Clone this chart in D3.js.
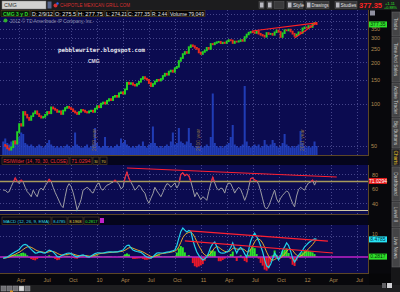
<!DOCTYPE html>
<html>
<head>
<meta charset="utf-8">
<script src="https://cdn.jsdelivr.net/npm/d3@7"></script>
<style>
body{margin:0;background:#08080c;}
svg{display:block;font-family:"Liberation Sans",Arial,sans-serif;}
</style>
</head>
<body>
<div id="chart"></div>
<script>
// weekly closes, Feb 2009 - Feb 2012
var closes = [51,
  50,48,47,49,54,52,63,72,70,88,
  84,80,77,82,86,89,85,82,80,81,
  84,88,86,95,93,91,88,89,85,90,
  94,96,94,92,89,87,85,88,91,90,
  88,87,89,90,88,93,97,95,101,103,
  101,106,109,107,113,115,113,120,122,119,
  128,143,140,142,138,136,140,145,152,157,
  153,150,142,135,140,146,150,148,152,160,
  166,163,172,175,171,182,186,205,215,230,
  238,234,258,266,262,255,250,236,230,238,
  244,255,250,272,270,276,280,282,275,278,
  276,284,290,288,276,283,282,285,290,286,
  305,318,328,332,330,326,335,322,316,312,
  306,326,320,322,316,330,340,332,305,325,
  342,340,345,334,322,310,318,330,326,352,
  358,356,366,360,380,385,377];

// volume, millions
var volumes = [0.9,1.1,0.8,0.7,0.9, 0.8,1.0,0.9,1.2,1.5, 1.4,0.8,0.7,0.6,0.7,
  0.6,0.5,0.6,0.7,0.6, 0.5,0.6,0.8,1.0,0.7, 0.6,0.5,0.6,0.5,0.6,
  0.5,0.6,0.7,0.6,0.5, 0.6,1.5,0.7,0.6,0.5, 0.5,0.6,0.7,0.5,0.6,
  0.7,1.8,0.8,0.6,0.5, 0.6,1.2,0.6,0.5,0.6, 0.5,0.6,0.7,0.6,1.1,
  0.8,1.0,0.7,0.6,0.5, 0.6,0.5,0.6,0.7,0.6, 0.9,0.6,0.5,0.7,0.8,
  1.9,0.8,0.6,0.5,0.6, 0.5,0.6,0.7,0.6,0.9, 1.5,0.7,0.8,1.8,0.9,
  0.8,0.7,0.9,1.8,0.8, 0.6,0.5,0.6,0.5,0.6, 0.5,0.6,0.7,0.6,1.2,
  4.1,0.8,0.6,0.5,0.6, 0.5,0.6,0.7,0.8,1.2, 2.0,0.7,0.6,0.5,0.6,
  0.7,4.6,0.9,0.6,0.5, 0.6,0.7,0.6,0.7,0.5, 0.6,1.0,0.7,0.6,0.7,
  1.0,0.8,0.6,0.5,0.6, 0.8,1.4,0.7,0.6,0.5, 0.6,0.5,0.6,0.7,1.6,
  0.8,0.6,0.5,0.6,0.5, 0.6,0.9,0.6];

var rsi = [58,58,55,56,63,69,75,70,67,72,
  69,62,56,53,49,58,53,49,58,61,
  58,64,68,73,70,62,55,49,43,37,
  34,49,62,67,63,55,44,31,37,45,
  58,60,62,60,56,54,60,66,68,60,
  58,62,65,66,68,69,72,69,66,60,
  62,75,83,74,69,64,58,61,65,62,
  57,54,45,40,47,53,62,57,53,49,
  55,62,67,66,62,65,68,61,66,80,
  82,78,80,78,70,60,49,55,50,45,
  49,47,44,56,67,76,68,61,58,61,
  60,54,64,68,67,61,54,59,62,59,
  52,44,51,62,74,75,72,71,66,57,
  46,35,32,36,43,51,58,46,41,47,
  51,54,57,55,47,40,35,50,59,62,
  60,58,64,68,69,72,65,71.03];

var macd = [-0.5,-0.3,0,0.6,1.3,1.9,2.5,3.0,3.6,4.8,
  5.7,6.0,5.6,4.6,3.6,2.7,1.9,2.0,2.4,2.3,
  2.0,1.9,2.6,3.3,3.0,2.4,1.4,0.3,0,0.6,
  1.0,1.4,1.8,1.9,1.6,1.0,0.4,0,0.4,0.8,
  1.0,0.6,0.2,0,0.5,1.1,1.6,1.9,2.0,1.9,
  1.9,2.1,2.3,2.4,2.4,2.3,2.4,2.4,2.7,3.0,
  3.3,4.5,5.5,5.6,4.4,3.3,2.9,2.6,2.4,2.2,
  1.5,0.6,0,-0.3,-0.5,0.1,1.1,1.9,2.0,1.9,
  1.9,2.1,2.3,2.4,2.7,3.0,3.3,5.5,9.0,12.2,
  13.8,12.8,11.9,12.6,12.2,8.1,5.0,2.4,0.8,-0.4,
  -1.4,-0.8,0,2.2,4.8,6.3,7.1,5.0,2.6,1.9,
  1.8,1.9,2.5,3.0,4.5,6.7,4.0,1.9,3.8,4.6,
  3.3,1.5,0,3.5,7.5,10.0,11.4,9.8,7.8,5.2,
  2.5,-1.4,-4.2,-5.0,-3.5,-0.8,1.9,0.4,-1.4,0.5,
  3.2,4.8,6.7,5.5,2.8,-0.5,-2.4,-0.8,0.8,2.0,
  3.2,4.8,5.8,6.8,7.5,8.1,8.6,8.4785];

var signal = [-0.6,-0.5,-0.3,0,0.4,0.8,1.3,1.8,2.3,2.9,
  3.6,4.3,4.8,4.9,4.6,4.1,3.5,3.0,2.7,2.5,
  2.3,2.1,2.2,2.5,2.7,2.6,2.3,1.8,1.3,1.0,
  0.9,1.0,1.2,1.4,1.5,1.4,1.1,0.8,0.6,0.6,
  0.7,0.7,0.6,0.4,0.4,0.6,0.9,1.2,1.5,1.7,
  1.8,1.9,2.0,2.1,2.2,2.3,2.3,2.4,2.5,2.6,
  2.8,3.2,3.8,4.4,4.5,4.2,3.8,3.4,3.1,2.8,
  2.4,1.9,1.3,0.8,0.3,0.1,0.3,0.8,1.2,1.5,
  1.7,1.8,2.0,2.1,2.3,2.5,2.8,3.4,4.9,7.0,
  9.2,10.6,11.3,11.7,11.9,11.0,9.4,7.3,5.3,3.6,
  2.0,1.0,0.5,0.8,1.8,3.1,4.4,5.0,4.6,3.9,
  3.2,2.7,2.5,2.6,3.1,4.1,4.4,3.8,3.6,3.8,
  3.9,3.4,2.5,2.4,3.6,5.3,7.2,8.4,8.6,8.0,
  6.6,4.6,2.3,0.4,-1.0,-1.6,-1.2,-0.6,-0.6,-0.4,
  0.4,1.4,2.6,3.6,3.8,3.2,1.9,0.9,0.3,0.4,
  1.0,1.9,2.9,3.9,4.9,5.9,7.2,8.1968];

var quarterTicks = ["2009-04-01","2009-07-01","2009-10-01","2010-01-01","2010-04-01","2010-07-01",
  "2010-10-01","2011-01-01","2011-04-01","2011-07-01","2011-10-01","2012-01-01","2012-04-01","2012-07-01"];
var priceTicks = [50, 100, 150, 200, 250, 300, 350];
var priceGrid = [50, 100, 150, 200, 250, 300, 350, 400, 450];
var rsiTicks = [40, 60, 80];
var macdTicks = [10];
var yearStarts = ["2010-01-01", "2011-01-01", "2012-01-01"];
var yearLabels = ["2009 year", "2010 year", "2011 year"];

// hand drawn trend lines [date, value]
var priceTrend = [[["2011-06-28", 337], ["2012-02-11", 386]], [["2011-11-25", 300], ["2012-02-11", 386]]];
var rsiTrend = [[["2010-04-16", 88.6], ["2012-04-21", 76.2]]];
var macdTrend = [[["2010-11-23", 12.4], ["2012-03-21", 7.6]], [["2010-11-05", 7.7], ["2012-04-08", 1.9]]];

var infoItems = ["D: 2/9/12", "O: 275.5", "H: 277.75", "L: 274.21", "C: 277.35", "R: 2.44", "Volume 79,049"];
var sideTabs = ["Trade", "Time And Sales", "Active Trader", "Big Buttons", "Charts", "Dashboard", "Level II", "Live News"];

var parse = d3.timeParse("%Y-%m-%d");
var weeks = d3.timeFriday.range(new Date(2009, 1, 6), new Date(2012, 1, 11));
var n = Math.min(weeks.length, closes.length);

var svg = d3.select("#chart").append("svg").attr("width", 400).attr("height", 292);
svg.append("rect").attr("width", 400).attr("height", 292).attr("fill", "#08080c");

var x = d3.scaleTime().domain([new Date(2009, 0, 1), new Date(2012, 6, 1)]).range([-7, 357]);
var yPrice = d3.scaleLog().domain([50, 300]).range([146, 38]);
var yVol = d3.scaleLinear().domain([0, 5]).range([155, 80]);
var yRsi = d3.scaleLinear().domain([30, 70]).range([210.5, 181.5]);
var yMacd = d3.scaleLinear().domain([0, 10]).range([257, 236]);

var tan = "#b08a52";
var border = "#5c4626";

function makePanel(id, top, bottom, hGrid, yScale) {
  svg.append("clipPath").attr("id", "clip-" + id).append("rect")
    .attr("x", 0).attr("y", top).attr("width", 368).attr("height", bottom - top);
  svg.append("rect").attr("x", 0).attr("y", top).attr("width", 368).attr("height", bottom - top)
    .attr("fill", "#0b0b50");
  var g = svg.append("g").attr("clip-path", "url(#clip-" + id + ")");
  g.selectAll(".vg").data(quarterTicks).enter().append("line")
    .attr("x1", function(d){ return Math.round(x(parse(d))) + 0.5; })
    .attr("x2", function(d){ return Math.round(x(parse(d))) + 0.5; })
    .attr("y1", top).attr("y2", bottom)
    .attr("stroke", "#45458a").attr("stroke-dasharray", "1,2");
  g.selectAll(".hg").data(hGrid).enter().append("line")
    .attr("x1", 0).attr("x2", 368)
    .attr("y1", function(d){ return Math.round(yScale(d)) + 0.5; })
    .attr("y2", function(d){ return Math.round(yScale(d)) + 0.5; })
    .attr("stroke", "#45458a").attr("stroke-dasharray", "1,2");
  return g;
}

// ---------- price panel ----------
var gp = makePanel("price", 10, 155, priceGrid, yPrice);

gp.selectAll(".vol").data(volumes.slice(0, n)).enter().append("rect")
  .attr("x", function(d, i){ return x(weeks[i]) - 1; })
  .attr("width", 2)
  .attr("y", function(d){ return yVol(d); })
  .attr("height", function(d){ return 155 - yVol(d); })
  .attr("fill", "#2545c8").attr("opacity", 0.85);

yearStarts.forEach(function(d, i){
  gp.append("text")
    .attr("transform", "translate(" + (x(parse(d)) - 1.5) + ",151) rotate(-90)")
    .attr("font-size", 5).attr("fill", "#8a6c44").text(yearLabels[i]);
});

gp.selectAll(".bar").data(closes.slice(1, n)).enter().append("rect")
  .attr("x", function(d, i){ return x(weeks[i + 1]) - 1; })
  .attr("width", 2)
  .attr("y", function(d, i){ return Math.min(yPrice(d), yPrice(closes[i])) - 0.8; })
  .attr("height", function(d, i){ return Math.abs(yPrice(d) - yPrice(closes[i])) + 1.6; })
  .attr("fill", function(d, i){ return d >= closes[i] ? "#22d424" : "#e82a1c"; });

priceTrend.forEach(function(t){
  gp.append("line")
    .attr("x1", x(parse(t[0][0]))).attr("y1", yPrice(t[0][1]))
    .attr("x2", x(parse(t[1][0]))).attr("y2", yPrice(t[1][1]))
    .attr("stroke", "#ff2222").attr("stroke-width", 1.2);
});

svg.append("text").attr("x", 58).attr("y", 52).attr("font-family", "DejaVu Sans Mono")
  .attr("font-weight", "bold").attr("font-size", 5.8).attr("fill", "#e6e6ee")
  .attr("textLength", 87).attr("lengthAdjust", "spacingAndGlyphs").text("pebblewriter.blogspot.com");
svg.append("text").attr("x", 88).attr("y", 63).attr("font-size", 5).attr("font-weight", "bold")
  .attr("fill", "#d8d8e0").text("CMG");

// ---------- RSI panel ----------
svg.append("rect").attr("x", 0).attr("y", 155).attr("width", 368).attr("height", 10).attr("fill", "#05051c");
var gr = makePanel("rsi", 165, 214, rsiTicks, yRsi);
gr.append("line").attr("x1", 0).attr("x2", 368).attr("y1", yRsi(70)).attr("y2", yRsi(70))
  .attr("stroke", "#a89a5a").attr("stroke-width", 1.4);
gr.append("line").attr("x1", 0).attr("x2", 368).attr("y1", yRsi(30)).attr("y2", yRsi(30))
  .attr("stroke", "#cfc6a4").attr("stroke-width", 1.2);

var rsiLine = d3.line().x(function(d, i){ return x(weeks[i]); }).y(function(d){ return yRsi(d); });
var rsiData = rsi.slice(0, n);
gr.append("path").attr("d", rsiLine(rsiData)).attr("fill", "none").attr("stroke", "#9c9ca4").attr("stroke-width", 1);

svg.append("clipPath").attr("id", "clip-ob").append("rect")
  .attr("x", 0).attr("y", 165).attr("width", 368).attr("height", yRsi(70) - 165);
svg.append("clipPath").attr("id", "clip-os").append("rect")
  .attr("x", 0).attr("y", yRsi(30)).attr("width", 368).attr("height", 214 - yRsi(30));
gr.append("path").attr("clip-path", "url(#clip-ob)").attr("d", rsiLine(rsiData))
  .attr("fill", "none").attr("stroke", "#e8203a").attr("stroke-width", 1.2);
gr.append("path").attr("clip-path", "url(#clip-os)").attr("d", rsiLine(rsiData))
  .attr("fill", "none").attr("stroke", "#20c8e0").attr("stroke-width", 1.2);

rsiTrend.forEach(function(t){
  gr.append("line")
    .attr("x1", x(parse(t[0][0]))).attr("y1", yRsi(t[0][1]))
    .attr("x2", x(parse(t[1][0]))).attr("y2", yRsi(t[1][1]))
    .attr("stroke", "#ff2030").attr("stroke-width", 1.2);
});

// ---------- MACD panel ----------
svg.append("rect").attr("x", 0).attr("y", 214).attr("width", 368).attr("height", 11).attr("fill", "#05051c");
var gm = makePanel("macd", 225, 273, macdTicks, yMacd);

gm.selectAll(".hist").data(macd.slice(0, n)).enter().append("rect")
  .attr("x", function(d, i){ return x(weeks[i]) - 1; })
  .attr("width", 2)
  .attr("y", function(d, i){ return Math.min(yMacd(0), yMacd(d - signal[i])); })
  .attr("height", function(d, i){ return Math.abs(yMacd(d - signal[i]) - yMacd(0)); })
  .attr("fill", function(d, i){ return d - signal[i] >= 0 ? "#2ee42a" : "#e8182a"; });

gm.append("line").attr("x1", 0).attr("x2", 368).attr("y1", yMacd(0)).attr("y2", yMacd(0))
  .attr("stroke", "#c020c8").attr("stroke-width", 1.4);

var macdLine = d3.line().x(function(d, i){ return x(weeks[i]); }).y(function(d){ return yMacd(d); });
gm.append("path").attr("d", macdLine(signal.slice(0, n))).attr("fill", "none")
  .attr("stroke", "#e8a828").attr("stroke-width", 1);
gm.append("path").attr("d", macdLine(macd.slice(0, n))).attr("fill", "none")
  .attr("stroke", "#22d2e8").attr("stroke-width", 1.2);

macdTrend.forEach(function(t){
  gm.append("line")
    .attr("x1", x(parse(t[0][0]))).attr("y1", yMacd(t[0][1]))
    .attr("x2", x(parse(t[1][0]))).attr("y2", yMacd(t[1][1]))
    .attr("stroke", "#ff2030").attr("stroke-width", 1.2);
});

// panel borders
[[10, 155], [165, 214], [225, 273]].forEach(function(p){
  svg.append("line").attr("x1", 368.5).attr("x2", 368.5).attr("y1", p[0]).attr("y2", p[1]).attr("stroke", border);
  svg.append("line").attr("x1", 0).attr("x2", 369).attr("y1", p[1] + 0.5).attr("y2", p[1] + 0.5).attr("stroke", border);
});
svg.append("line").attr("x1", 0).attr("x2", 369).attr("y1", 155.5).attr("y2", 155.5).attr("stroke", border);
svg.append("line").attr("x1", 0).attr("x2", 369).attr("y1", 214.5).attr("y2", 214.5).attr("stroke", border);

// ---------- axes ----------
function styleAxis(g){
  g.select(".domain").remove();
  g.selectAll("text").attr("fill", tan).attr("font-size", 5.5);
}
svg.append("g").attr("transform", "translate(369,0)")
  .call(d3.axisRight(yPrice).tickValues(priceTicks).tickFormat(d3.format("d")).tickSize(0).tickPadding(2))
  .call(styleAxis);
svg.append("g").attr("transform", "translate(369,0)")
  .call(d3.axisRight(yRsi).tickValues(rsiTicks).tickSize(0).tickPadding(3))
  .call(styleAxis);
svg.append("g").attr("transform", "translate(369,-2)")
  .call(d3.axisRight(yMacd).tickValues(macdTicks).tickSize(0).tickPadding(3))
  .call(styleAxis)
  .selectAll("text").attr("font-size", 5);

var fmtQ = function(d){ return d.getMonth() === 0 ? d3.timeFormat("%y")(d) : d3.timeFormat("%b")(d); };
svg.append("g").attr("transform", "translate(2,275)")
  .call(d3.axisBottom(x).tickValues(quarterTicks.map(parse)).tickFormat(fmtQ).tickSize(0).tickPadding(3))
  .call(styleAxis);

function valueBox(y, fill, color, label){
  svg.append("rect").attr("x", 369).attr("y", y - 2.8).attr("width", 18).attr("height", 6).attr("fill", fill);
  svg.append("text").attr("x", 378).attr("y", y + 1.8).attr("text-anchor", "middle")
    .attr("font-size", 5).attr("fill", color).text(label);
}
valueBox(yPrice(closes[n - 1]), "#2ee02a", "#063006", "377.35");
valueBox(yRsi(rsi[n - 1]), "#e41c1c", "#ffffff", "71.0294");
valueBox(yMacd(macd[n - 1]), "#28e4f4", "#043040", "8.4785");
valueBox(yMacd(macd[n - 1] - signal[n - 1]), "#2ee02a", "#063006", "0.2817");
svg.append("rect").attr("x", 370).attr("y", 10.5).attr("width", 5).attr("height", 5).attr("fill", "#9090a0");

// ---------- study headers ----------
function headerItem(x0, w, y, txt, color, size){
  svg.append("rect").attr("x", x0).attr("y", y - 6).attr("width", w).attr("height", 7.5)
    .attr("fill", "#070716").attr("stroke", border).attr("stroke-width", 0.6);
  svg.append("text").attr("x", x0 + 1.2).attr("y", y).attr("font-size", size).attr("fill", color)
    .attr("textLength", w - 2.6).attr("lengthAdjust", "spacingAndGlyphs").text(txt);
}
headerItem(2, 67, 163, "RSIWilder (14, 70, 30, CLOSE)", "#e83030", 4.6);
headerItem(70, 22, 163, "71.0294", "#e83030", 5);
headerItem(93, 6, 163, "30", "#e8d040", 4);
headerItem(100, 7, 163, "70", "#e8d040", 4);
headerItem(2, 49, 223, "MACD (12, 26, 9, EMA)", "#30d8e8", 4.3);
headerItem(52, 15, 223, "8.4785", "#30d8e8", 4.4);
headerItem(68, 15, 223, "8.1968", "#e8d040", 4.4);
headerItem(84, 15, 223, "0.2817", "#30e030", 4.4);
svg.append("rect").attr("x", 100).attr("y", 218).attr("width", 4).attr("height", 5).attr("fill", "#c020c8");

// ---------- top bars ----------
svg.append("rect").attr("width", 400).attr("height", 10).attr("fill", "#1c1c1e");
svg.append("rect").attr("x", 2).attr("y", 1).attr("width", 44).attr("height", 8).attr("fill", "#d0d0d0").attr("stroke", "#808080").attr("stroke-width", 0.5);
svg.append("text").attr("x", 4).attr("y", 7.4).attr("font-size", 5.5).attr("fill", "#303030").text("CMG");
svg.append("rect").attr("x", 47.5).attr("y", 1.5).attr("width", 4).attr("height", 7).attr("fill", "#56668e");
svg.append("circle").attr("cx", 55.5).attr("cy", 5.5).attr("r", 2).attr("fill", "#d83030");
svg.append("circle").attr("cx", 57.5).attr("cy", 3.5).attr("r", 1.2).attr("fill", "#3060e8");
svg.append("text").attr("x", 60).attr("y", 7.4).attr("font-size", 5.2).attr("fill", "#d83030")
  .attr("textLength", 70).attr("lengthAdjust", "spacingAndGlyphs").text("CHIPOTLE MEXICAN GRILL COM");

[[259, 5], [267, 5], [274, 10], [287, 16], [306, 23], [335, 22]].forEach(function(b){
  svg.append("rect").attr("x", b[0]).attr("y", 1.5).attr("width", b[1]).attr("height", 7)
    .attr("fill", "#3a3a3c").attr("stroke", "#5a5a5c").attr("stroke-width", 0.5);
});
[[260, 1.5], [268, 1.5], [288, 1.5], [307, 1.5], [336, 1.5]].forEach(function(b){
  svg.append("rect").attr("x", b[0]).attr("y", 2.5).attr("width", 3.5).attr("height", 5).attr("fill", "#b8b8c0");
});
svg.append("text").attr("x", 293).attr("y", 7).attr("font-size", 5).attr("fill", "#e4e4e4").text("Style");
svg.append("text").attr("x", 311.5).attr("y", 7).attr("font-size", 4.6).attr("fill", "#e4e4e4")
  .attr("textLength", 17).attr("lengthAdjust", "spacingAndGlyphs").text("Drawings");
svg.append("text").attr("x", 340.5).attr("y", 7).attr("font-size", 4.8).attr("fill", "#e4e4e4")
  .attr("textLength", 16).attr("lengthAdjust", "spacingAndGlyphs").text("Studies");
svg.append("text").attr("x", 359).attr("y", 7.8).attr("font-size", 7.5).attr("font-weight", "bold")
  .attr("fill", "#ff2424").attr("textLength", 23).attr("lengthAdjust", "spacingAndGlyphs").text("377.35");
svg.append("text").attr("x", 385).attr("y", 4.6).attr("font-size", 4).attr("fill", "#2ee02a").text("+1.11");
svg.append("text").attr("x", 384).attr("y", 9).attr("font-size", 3.8).attr("fill", "#2ee02a").text("+0.88%");

// info bar
svg.append("rect").attr("x", 0).attr("y", 10).attr("width", 205).attr("height", 7).attr("fill", "#020206");
svg.append("rect").attr("x", 1).attr("y", 10.5).attr("width", 29).attr("height", 6).attr("fill", "#0a1a0a").attr("stroke", border).attr("stroke-width", 0.6);
svg.append("text").attr("x", 3).attr("y", 15.6).attr("font-size", 5).attr("font-weight", "bold").attr("fill", "#2ed42e")
  .attr("textLength", 25).attr("lengthAdjust", "spacingAndGlyphs").text("CMG 3 y D");
var infoX = [32, 55, 78, 106, 128, 152, 170];
var infoW = [21, 21, 25, 21, 22, 15, 34];
infoItems.forEach(function(t, i){
  svg.append("rect").attr("x", infoX[i] - 1).attr("y", 10.5).attr("width", infoW[i] + 2).attr("height", 6)
    .attr("fill", "none").attr("stroke", border).attr("stroke-width", 0.6);
  svg.append("text").attr("x", infoX[i]).attr("y", 15.6).attr("font-size", 4.8).attr("fill", "#e8e8e8")
    .attr("textLength", infoW[i]).attr("lengthAdjust", "spacingAndGlyphs").text(t);
});
svg.append("circle").attr("cx", 5.5).attr("cy", 20.5).attr("r", 2).attr("fill", "#30b030");
svg.append("text").attr("x", 10).attr("y", 22.5).attr("font-size", 5).attr("fill", "#8c8cac")
  .attr("textLength", 83).attr("lengthAdjust", "spacingAndGlyphs").text("2012 © TD Ameritrade IP Company, Inc.");

// ---------- side tabs ----------
svg.append("rect").attr("x", 369).attr("y", 273.5).attr("width", 22).attr("height", 12).attr("fill", "#060608");
svg.append("rect").attr("x", 391).attr("y", 10).attr("width", 9).attr("height", 275).attr("fill", "#161618");
var tabTop = [12, 37, 83, 118, 149, 167, 202, 228];
var tabBot = [36, 82, 117, 148, 166, 201, 227, 267];
sideTabs.forEach(function(t, i){
  var active = t === "Charts";
  svg.append("rect").attr("x", 392).attr("y", tabTop[i]).attr("width", 8).attr("height", tabBot[i] - tabTop[i])
    .attr("fill", active ? "#222224" : "#444446").attr("stroke", "#6a6a6c").attr("stroke-width", 0.5);
  svg.append("text")
    .attr("transform", "translate(394," + ((tabTop[i] + tabBot[i]) / 2) + ") rotate(90)")
    .attr("text-anchor", "middle").attr("font-size", 4.8)
    .attr("fill", active ? "#f0c828" : "#c8c8c8").text(t);
});

// ---------- bottom toolbar ----------
svg.append("rect").attr("x", 0).attr("y", 285).attr("width", 400).attr("height", 7).attr("fill", "#1e1e20");
[1, 7, 13, 19, 25].forEach(function(bx, i){
  svg.append("rect").attr("x", bx).attr("y", 286).attr("width", 5).attr("height", 5)
    .attr("fill", i === 3 ? "#d8d8d8" : "#707074").attr("stroke", "#9a9a9e").attr("stroke-width", 0.4);
});
svg.append("rect").attr("x", 10).attr("y", 290.5).attr("width", 3).attr("height", 1.5).attr("fill", "#d08a20");
svg.append("rect").attr("x", 382).attr("y", 283).attr("width", 4).attr("height", 5).attr("fill", "#606064");
svg.append("rect").attr("x", 387).attr("y", 283).attr("width", 5).attr("height", 5).attr("fill", "#d0d0d4");
</script>
</body>
</html>
